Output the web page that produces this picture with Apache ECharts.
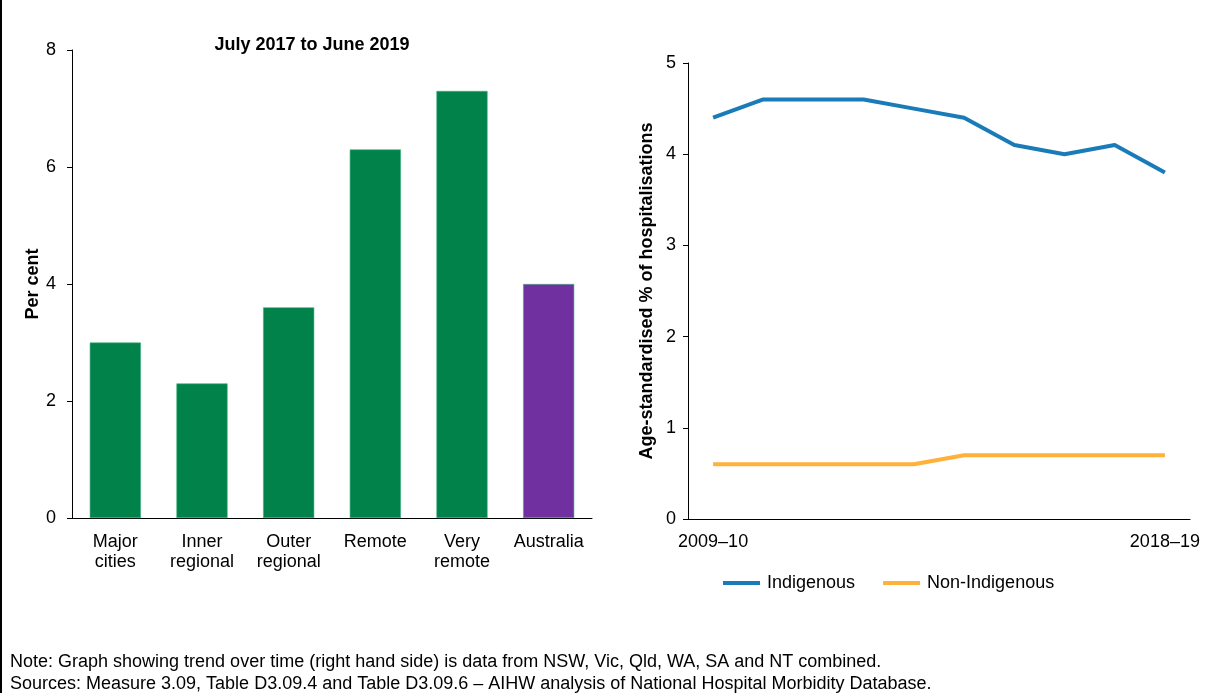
<!DOCTYPE html>
<html>
<head>
<meta charset="utf-8">
<script src="https://cdn.jsdelivr.net/npm/echarts@6/dist/echarts.min.js"></script>
<style>
html,body{margin:0;padding:0;background:#fff;}
#chart{width:1213px;height:693px;}
</style>
</head>
<body>
<div id="chart"></div>
<script>
var regionCategories = ['Major\ncities', 'Inner\nregional', 'Outer\nregional', 'Remote', 'Very\nremote', 'Australia'];
var regionValues = [3.0, 2.3, 3.6, 6.3, 7.3, 4.0];
var yearCategories = ['2009–10', '2010–11', '2011–12', '2012–13', '2013–14', '2014–15', '2015–16', '2016–17', '2017–18', '2018–19'];
var indigenousValues = [4.4, 4.6, 4.6, 4.6, 4.5, 4.4, 4.1, 4.0, 4.1, 3.8];
var nonIndigenousValues = [0.6, 0.6, 0.6, 0.6, 0.6, 0.7, 0.7, 0.7, 0.7, 0.7];
var leftTitle = 'July 2017 to June 2019';
var noteText = 'Note: Graph showing trend over time (right hand side) is data from NSW, Vic, Qld, WA, SA and NT combined.';
var sourceText = 'Sources: Measure 3.09, Table D3.09.4 and Table D3.09.6 – AIHW analysis of National Hospital Morbidity Database.';

var FONT = '"Liberation Sans", Arial, sans-serif';
var GREEN = '#00824A';
var PURPLE = '#7030A0';
var BLUE = '#1A7BB9';
var ORANGE = '#FFB13B';

var chart = echarts.init(document.getElementById('chart'));
var axisLine = {show: true, lineStyle: {color: '#000', width: 1}};
var option = {
  animation: false,
  backgroundColor: '#fff',
  textStyle: {fontFamily: FONT},
  title: [{
    text: leftTitle,
    left: 312, top: 36, textAlign: 'center', padding: 0,
    textStyle: {fontFamily: FONT, fontSize: 18, fontWeight: 'bold', color: '#000'}
  }],
  legend: {
    left: 723, top: 574, padding: 0,
    itemWidth: 37, itemHeight: 4, itemGap: 28,
    icon: 'rect',
    textStyle: {fontFamily: FONT, fontSize: 18, color: '#000', padding: [0, 0, 0, 2]},
    data: ['Indigenous', 'Non-Indigenous']
  },
  grid: [
    {left: 72, right: 621, top: 50, bottom: 175},
    {left: 688, right: 23, top: 63, bottom: 174}
  ],
  xAxis: [{
    type: 'category', gridIndex: 0, data: regionCategories,
    axisLine: axisLine, axisTick: {show: false},
    axisLabel: {color: '#000', fontFamily: FONT, fontSize: 18, margin: 14, lineHeight: 20, interval: 0}
  }, {
    type: 'category', gridIndex: 1, data: yearCategories,
    axisLine: axisLine, axisTick: {show: false},
    axisLabel: {color: '#000', fontFamily: FONT, fontSize: 18, margin: 14,
      interval: function (i) { return i === 0 || i === yearCategories.length - 1; }}
  }],
  yAxis: [{
    type: 'value', gridIndex: 0, min: 0, max: 8, interval: 2,
    name: 'Per cent', nameLocation: 'middle', nameGap: 30,
    nameTextStyle: {fontFamily: FONT, fontSize: 18, fontWeight: 'bold', color: '#000'},
    axisLine: axisLine, axisTick: {show: true, length: 5, lineStyle: {color: '#000'}},
    splitLine: {show: false},
    axisLabel: {color: '#000', fontFamily: FONT, fontSize: 18, margin: 16}
  }, {
    type: 'value', gridIndex: 1, min: 0, max: 5, interval: 1,
    name: 'Age-standardised % of hospitalisations', nameLocation: 'middle', nameGap: 32,
    nameTextStyle: {fontFamily: FONT, fontSize: 18, fontWeight: 'bold', color: '#000'},
    axisLine: axisLine, axisTick: {show: true, length: 5, lineStyle: {color: '#000'}},
    splitLine: {show: false},
    axisLabel: {color: '#000', fontFamily: FONT, fontSize: 18, margin: 12}
  }],
  series: [{
    type: 'bar', xAxisIndex: 0, yAxisIndex: 0,
    barWidth: '59%',
    data: regionValues.map(function (v, i) {
      return {value: v, itemStyle: {color: i === regionValues.length - 1 ? PURPLE : GREEN, borderColor: '#3DB07A', borderWidth: 0.6}};
    })
  }, {
    name: 'Indigenous', type: 'line', xAxisIndex: 1, yAxisIndex: 1,
    data: indigenousValues, showSymbol: false, symbol: 'none',
    lineStyle: {color: BLUE, width: 4}, itemStyle: {color: BLUE}
  }, {
    name: 'Non-Indigenous', type: 'line', xAxisIndex: 1, yAxisIndex: 1,
    data: nonIndigenousValues, showSymbol: false, symbol: 'none',
    lineStyle: {color: ORANGE, width: 4}, itemStyle: {color: ORANGE}
  }],
  graphic: [
    {type: 'rect', left: 0, top: 0, shape: {x: 0, y: 0, width: 2, height: 693}, style: {fill: '#000'}},
    {type: 'text', left: 10, top: 653, style: {text: noteText, fill: '#000', font: '18px ' + FONT}},
    {type: 'text', left: 10, top: 675, style: {text: sourceText, fill: '#000', font: '18px ' + FONT}}
  ]
};
chart.setOption(option);
</script>
</body>
</html>
